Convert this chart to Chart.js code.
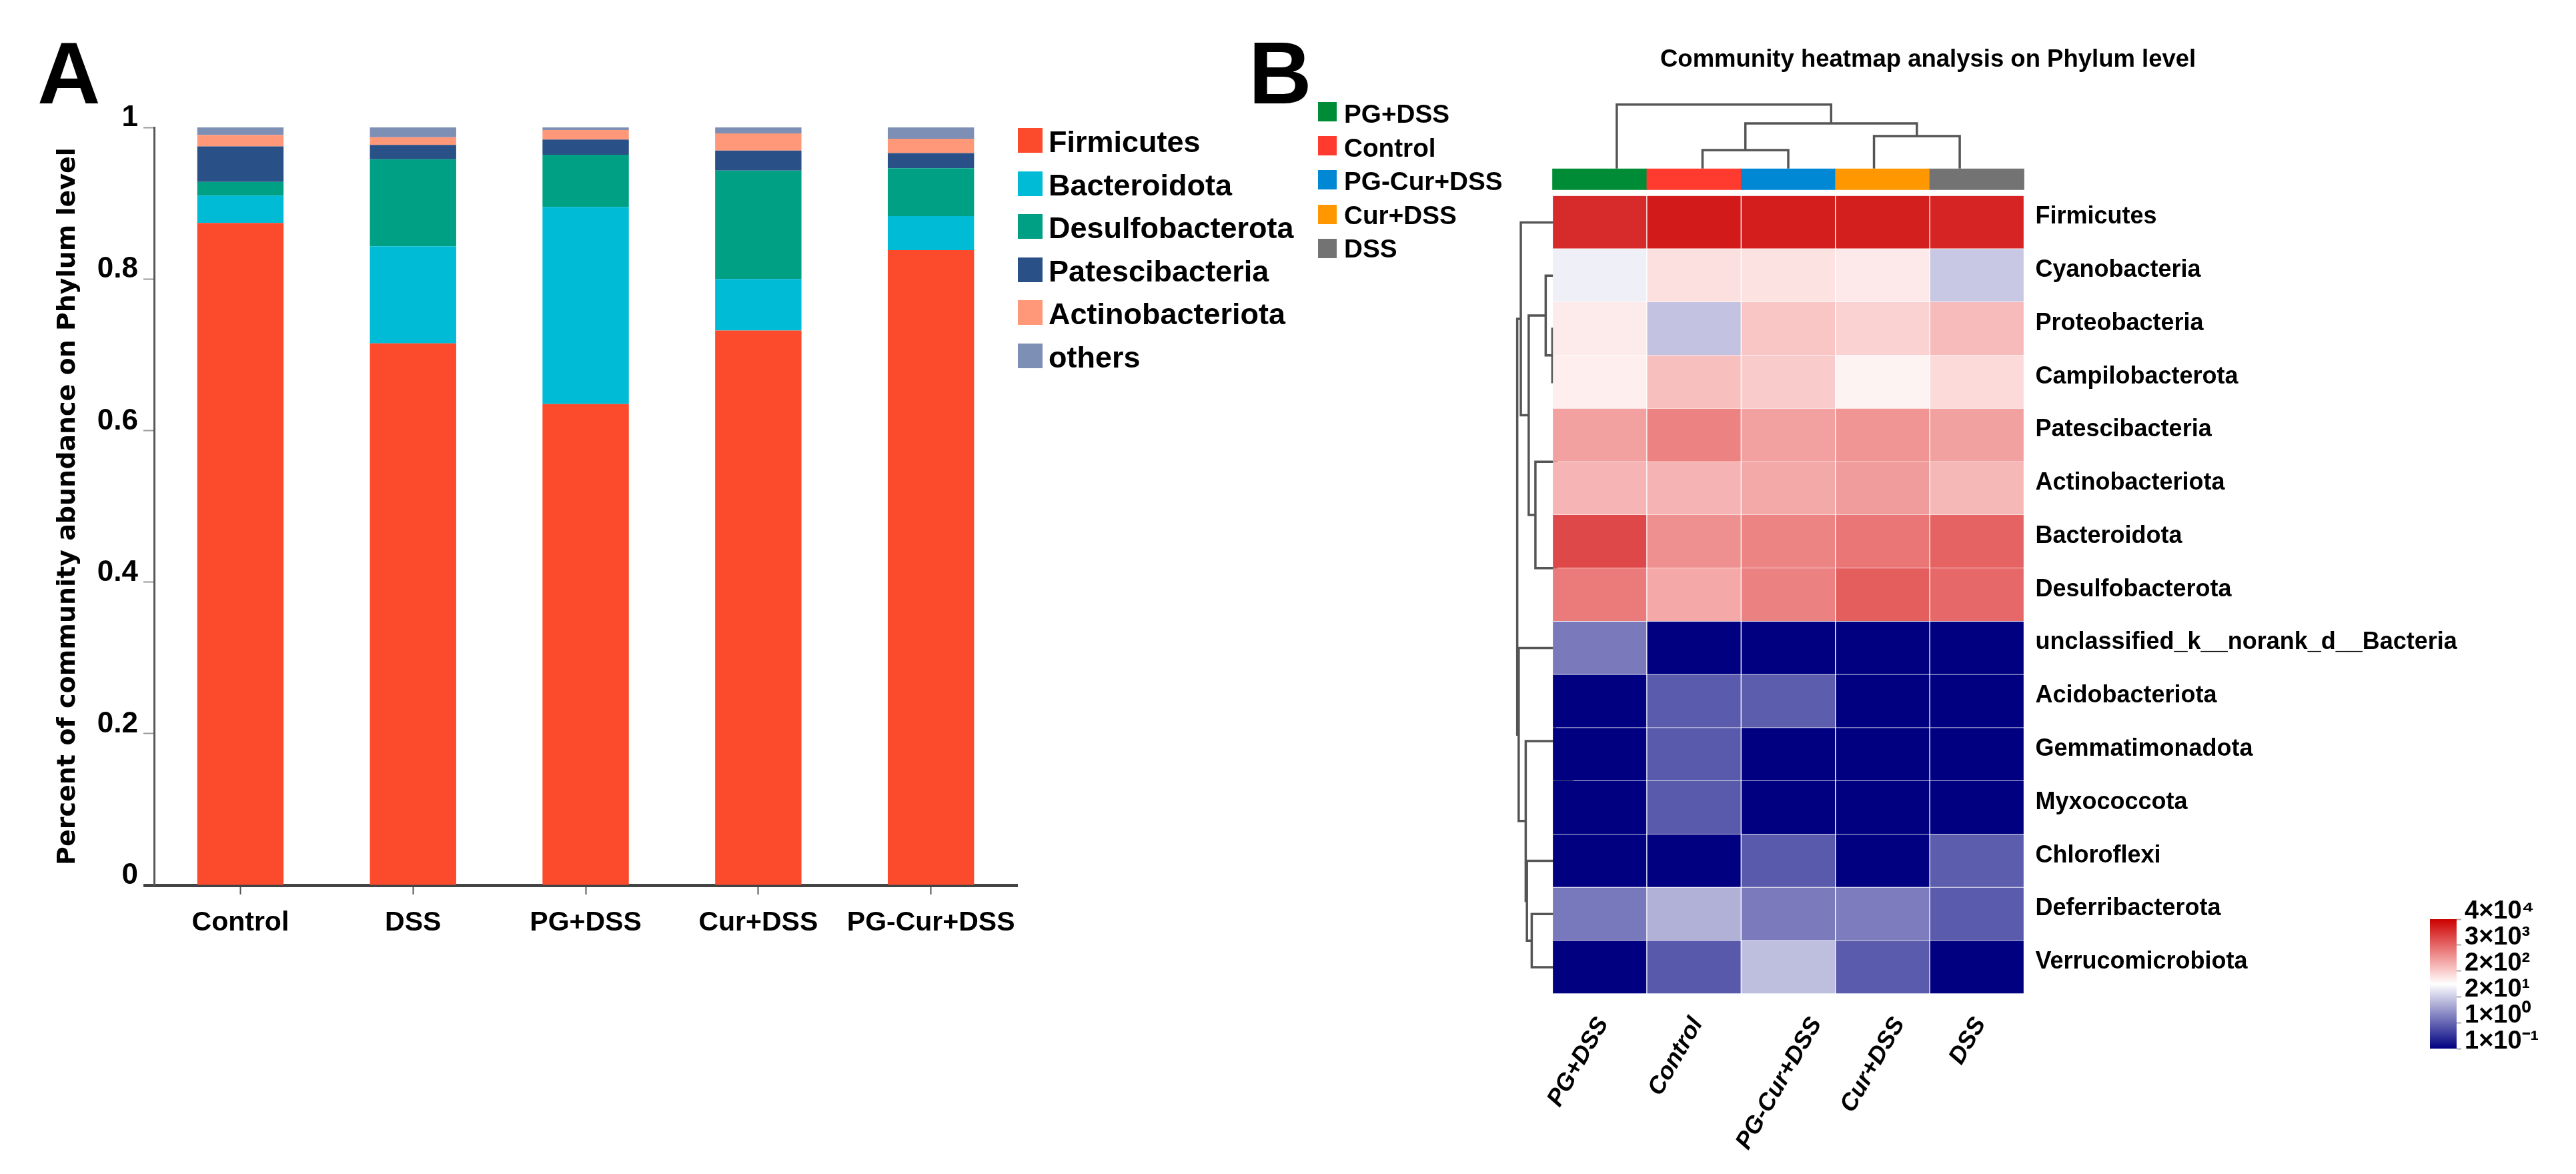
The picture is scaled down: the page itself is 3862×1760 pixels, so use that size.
<!DOCTYPE html>
<html>
<head>
<meta charset="utf-8">
<script src="https://cdn.jsdelivr.net/npm/chart.js@4/dist/chart.umd.min.js"></script>
<style>
  html, body { margin: 0; padding: 0; background: #fff; }
  body { position: relative; width: 3862px; height: 1760px; overflow: hidden; font-family: "Liberation Sans", Arial, sans-serif; font-weight: bold; color: #000; }
  canvas { position: absolute; }
  .txt { position: absolute; white-space: nowrap; line-height: 1; }
  .swatch { position: absolute; }
</style>
</head>
<body>
<canvas id="barChart" width="1540" height="1760" style="left:0;top:0"></canvas>
<canvas id="heatChart" width="1650" height="1760" style="left:2100px;top:0"></canvas>
<canvas id="scaleChart" width="262" height="260" style="left:3600px;top:1340px"></canvas>
<script>
// Panel A: relative abundance
const groups = ['Control', 'DSS', 'PG+DSS', 'Cur+DSS', 'PG-Cur+DSS'];
const phyla = ['Firmicutes', 'Bacteroidota', 'Desulfobacterota', 'Patescibacteria', 'Actinobacteriota', 'others'];
const firmicutes = [0.874, 0.715, 0.635, 0.732, 0.838];
const bacteroidota = [0.036, 0.128, 0.260, 0.068, 0.045];
const desulfobacterota = [0.018, 0.115, 0.069, 0.143, 0.063];
const patescibacteria = [0.047, 0.019, 0.020, 0.0265, 0.020];
const actinobacteriota = [0.015, 0.010, 0.0125, 0.0225, 0.019];
const others = [0.010, 0.013, 0.0035, 0.008, 0.015];
const phylaColors = ['#fc4a2d', '#00bbd6', '#00a085', '#2a5187', '#ff9878', '#7e8fb6'];

// Panel B: heatmap, levels are positions on the colour bar (0 = 1x10^-1, 5 = 4x10^4)
const heatCols = ['PG+DSS', 'Control', 'PG-Cur+DSS', 'Cur+DSS', 'DSS'];
const heatColColors = ['#008c37', '#ff3b30', '#0088d5', '#ff9800', '#737373'];
const heatRows = ['Firmicutes', 'Cyanobacteria', 'Proteobacteria', 'Campilobacterota', 'Patescibacteria',
  'Actinobacteriota', 'Bacteroidota', 'Desulfobacterota', 'unclassified_k__norank_d__Bacteria', 'Acidobacteriota',
  'Gemmatimonadota', 'Myxococcota', 'Chloroflexi', 'Deferribacterota', 'Verrucomicrobiota'];
const heatLevels = [
  [4.59, 4.75, 4.72, 4.70, 4.65],
  [2.34, 2.80, 2.78, 2.72, 1.96],
  [2.71, 1.91, 3.07, 2.94, 3.17],
  [2.67, 3.13, 3.01, 2.62, 2.86],
  [3.43, 3.73, 3.43, 3.55, 3.42],
  [3.24, 3.25, 3.34, 3.47, 3.21],
  [4.29, 3.59, 3.71, 3.84, 4.03],
  [3.80, 3.35, 3.74, 4.08, 3.98],
  [1.19, 0, 0, 0, 0],
  [0, 0.89, 0.91, 0, 0],
  [0, 0.88, 0, 0, 0],
  [0, 0.88, 0, 0, 0],
  [0, 0, 0.88, 0, 0.91],
  [1.18, 1.74, 1.20, 1.22, 0.89],
  [0, 0.87, 1.86, 0.89, 0]
];
const scaleLabels = ['1×10⁻¹', '1×10⁰', '2×10¹', '2×10²', '3×10³', '4×10⁴'];

// dendrograms: [child, child, height], ids past the leaf count are earlier merges
const colTree = [[1, 2, 0.859], [3, 4, 1.122], [5, 6, 1.360], [0, 7, 1.715]];
const colLeafHeight = 0.511;
const rowTree = [
  [2, 3, 0.251], [1, 15, 0.329], [4, 5, 0.205], [6, 7, 0.205], [17, 18, 0.449], [16, 19, 0.527], [0, 20, 0.619],
  [10, 11, 0.018], [9, 22, 0.223], [13, 14, 0.492], [12, 24, 0.548], [23, 25, 0.562], [8, 26, 0.644], [21, 27, 0.661]
];

Chart.defaults.font.family = '"Liberation Sans", Arial, sans-serif';
Chart.defaults.font.weight = 'bold';
Chart.defaults.color = '#000';
Chart.defaults.animation = false;
Chart.defaults.devicePixelRatio = 1;
Chart.defaults.responsive = false;
Chart.defaults.plugins.legend.display = false;
Chart.defaults.plugins.tooltip.enabled = false;

function addText(text, left, top, size, extra) {
  const d = document.createElement('div');
  d.className = 'txt';
  d.textContent = text;
  d.style.cssText = `left:${left}px;top:${top}px;font-size:${size}px;` + (extra || '');
  document.body.appendChild(d);
}
function addSwatch(color, left, top, w, h) {
  const d = document.createElement('div');
  d.className = 'swatch';
  d.style.cssText = `left:${left}px;top:${top}px;width:${w}px;height:${h}px;background:${color}`;
  document.body.appendChild(d);
}

// blue - white - red ramp of the colour bar
function levelColor(level) {
  const t = level / 5;
  if (t < 0.5) {
    const s = 1 - t * 2;
    return `rgb(${Math.round(255 * (1 - s))},${Math.round(255 * (1 - s))},${Math.round(255 - 127 * s)})`;
  }
  const s = t * 2 - 1;
  return `rgb(${Math.round(255 - 51 * Math.pow(s, 1.4))},${Math.round(255 * (1 - s))},${Math.round(255 * (1 - s))})`;
}

// turn a merge list into one path per merge
function dendroPaths(tree, leafCount, leafHeight) {
  const pos = [], h = [];
  for (let i = 0; i < leafCount; i++) { pos.push(i); h.push(leafHeight); }
  return tree.map(([a, b, height]) => {
    const path = [[pos[a], h[a]], [pos[a], height], [pos[b], height], [pos[b], h[b]]];
    pos.push((pos[a] + pos[b]) / 2);
    h.push(height);
    return path;
  });
}

// Panel A chart
new Chart(document.getElementById('barChart'), {
  type: 'bar',
  data: {
    labels: groups,
    datasets: [firmicutes, bacteroidota, desulfobacterota, patescibacteria, actinobacteriota, others].map((values, i) => ({
      label: phyla[i],
      data: values,
      backgroundColor: phylaColors[i],
      barPercentage: 1,
      categoryPercentage: 0.5
    }))
  },
  options: {
    layout: { padding: { top: 191, right: 4.5 } },
    scales: {
      x: {
        stacked: true,
        afterFit: s => { s.height = 433; },
        border: { color: '#444', width: 5 },
        grid: { offset: false, drawOnChartArea: false, tickLength: 14, tickColor: '#555', tickWidth: 2 },
        ticks: { font: { size: 41 }, padding: 18, maxRotation: 0, autoSkip: false }
      },
      y: {
        stacked: true,
        min: 0,
        max: 1,
        afterFit: s => { s.width = 231; },
        border: { color: '#555', width: 3 },
        grid: {
          drawOnChartArea: false,
          tickLength: 16,
          tickColor: c => (c.tick && c.tick.value === 0 ? '#444' : '#999'),
          tickWidth: c => (c.tick && c.tick.value === 0 ? 5 : 2)
        },
        ticks: {
          stepSize: 0.2,
          font: { size: 44 },
          padding: 8,
          labelOffset: -14,
          callback: v => String(Math.round(v * 10) / 10)
        },
        title: {
          display: true,
          text: 'Percent of community abundance on Phylum level',
          font: { family: '"DejaVu Sans"', size: 38, weight: 'bold' },
          padding: { top: 79, bottom: 0 }
        }
      }
    }
  }
});

// Panel B chart
const heatDatasets = [];
heatRows.forEach((name, r) => {
  heatDatasets.push({
    type: 'bar',
    label: name,
    data: heatCols.map(() => [r, r + 1]),
    backgroundColor: heatLevels[r].map(levelColor),
    borderColor: 'rgba(255,255,255,0.08)',
    borderWidth: 1,
    grouped: false,
    barPercentage: 1,
    categoryPercentage: 1,
    xAxisID: 'x',
    yAxisID: 'yRow'
  });
});
// sample colour strip above the heatmap
heatDatasets.push({
  type: 'bar',
  label: 'group',
  data: heatCols.map(() => [-0.508, -0.115]),
  backgroundColor: heatColColors,
  grouped: false,
  barPercentage: 1,
  categoryPercentage: 1,
  clip: false,
  xAxisID: 'x',
  yAxisID: 'yRow'
});
function linkDataset(points) {
  return {
    type: 'scatter',
    data: points,
    showLine: true,
    borderColor: '#555',
    borderWidth: 3.5,
    pointRadius: 0,
    clip: false,
    xAxisID: 'xd',
    yAxisID: 'yRow'
  };
}
dendroPaths(colTree, heatCols.length, colLeafHeight).forEach(path => {
  heatDatasets.push(linkDataset(path.map(([p, h]) => ({ x: p, y: -h }))));
});
dendroPaths(rowTree, heatRows.length, 0).forEach(path => {
  heatDatasets.push(linkDataset(path.map(([p, h]) => ({ x: -0.5 - h, y: p + 0.5 }))));
});

// the slanted column labels do not sit evenly under their columns in the original
const colLabelShift = [5, 5, 42, 25, 5];
const shiftColLabels = {
  id: 'shiftColLabels',
  afterUpdate(chart) {
    chart.scales.x.getLabelItems(chart.chartArea).forEach((item, i) => {
      item.options.translation[0] += colLabelShift[i];
    });
  }
};

new Chart(document.getElementById('heatChart'), {
  type: 'bar',
  data: { labels: heatCols, datasets: heatDatasets },
  plugins: [shiftColLabels],
  options: {
    layout: { padding: { left: 227.5, top: 293.5 } },
    scales: {
      x: {
        position: 'bottom',
        afterFit: s => { s.height = 270; },
        grid: { display: false },
        border: { display: false },
        ticks: {
          font: { size: 36, style: 'italic', weight: 'bold' },
          minRotation: 60,
          maxRotation: 60,
          autoSkip: false,
          padding: 20
        }
      },
      xd: { type: 'linear', display: false, min: -0.5, max: 4.5 },
      yRow: { type: 'linear', display: false, min: 0, max: 15, reverse: true },
      yLab: {
        type: 'category',
        labels: heatRows,
        position: 'right',
        offset: true,
        afterFit: s => { s.width = 715.5; },
        grid: { display: false },
        border: { display: false },
        ticks: { font: { size: 36 }, padding: 9, labelOffset: -8, autoSkip: false }
      }
    }
  }
});

// colour bar
new Chart(document.getElementById('scaleChart'), {
  type: 'bar',
  data: {
    labels: ['level'],
    datasets: [{
      data: [[0, 5]],
      barPercentage: 1,
      categoryPercentage: 1,
      backgroundColor: c => {
        const area = c.chart.chartArea;
        if (!area) return '#fff';
        const g = c.chart.ctx.createLinearGradient(0, area.bottom, 0, area.top);
        [0, 1, 2, 2.5, 3, 4, 5].forEach(l => g.addColorStop(l / 5, levelColor(l)));
        return g;
      }
    }]
  },
  options: {
    layout: { padding: { left: 43, top: 38, bottom: 21.5 } },
    scales: {
      x: { display: false },
      y: {
        position: 'right',
        min: 0,
        max: 5,
        afterFit: s => { s.width = 179; },
        border: { display: false },
        grid: { drawOnChartArea: false, tickLength: 7, tickColor: '#aaa', tickWidth: 2 },
        ticks: {
          stepSize: 1,
          autoSkip: false,
          font: { size: 38 },
          padding: 5,
          labelOffset: -11,
          callback: v => scaleLabels[v]
        }
      }
    }
  }
});

// panel letters, titles and legends
addText('A', 56, 44, 131);
addText('B', 1872, 44, 131);
addText('Community heatmap analysis on Phylum level', 2489, 70, 36.5);
phyla.forEach((name, i) => {
  addSwatch(phylaColors[i], 1526, 192 + i * 64.6, 37, 37);
  addText(name, 1572, 190 + i * 64.6, 45);
});
heatCols.forEach((name, i) => {
  addSwatch(heatColColors[i], 1976, 153 + i * 51.2, 28, 29);
  addText(name, 2015, 152 + i * 50.6, 38.7);
});
</script>
</body>
</html>
